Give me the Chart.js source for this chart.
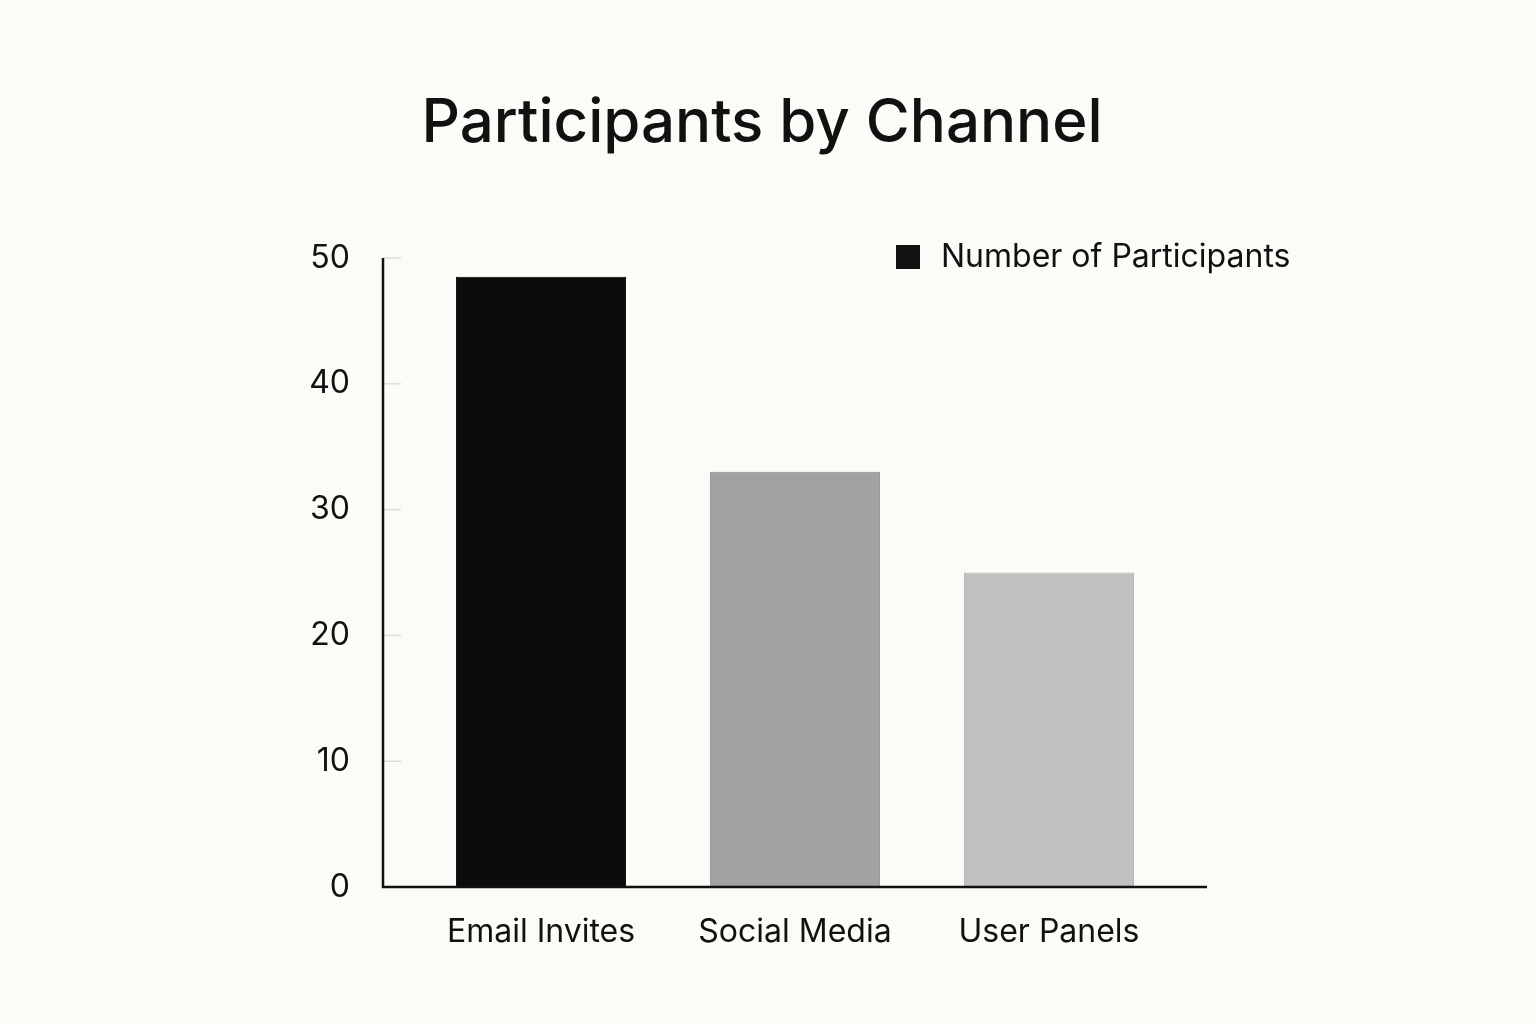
<!DOCTYPE html>
<html><head><meta charset="utf-8">
<script src="https://cdn.jsdelivr.net/npm/chart.js@4/dist/chart.umd.min.js"></script>
<style>html,body{margin:0;padding:0;background:#fcfbf7;}#wrap{width:1536px;height:1024px;}</style>
</head><body><div id="wrap"><canvas id="c"></canvas></div>
<script>
const categories = ["Email Invites", "Social Media", "User Panels"];
const participants = [48.5, 33, 25];
const barColors = ["#0b0b0b", "#a2a2a2", "#c1c1c1"];
const yTicks = [0, 10, 20, 30, 40, 50];
const titleText = "Participants by Channel";
const seriesName = "Number of Participants";
const FONT = "Inter, 'Noto Sans', sans-serif";

const decor = {
  id: 'decor',
  afterDraw(chart) {
    const {ctx, chartArea: a} = chart;
    const y = chart.scales.y;
    ctx.save();
    // title
    ctx.fillStyle = '#111';
    ctx.font = '500 60px ' + FONT;
    ctx.textAlign = 'center'; ctx.textBaseline = 'middle';
    ctx.fillText(titleText, 762, 124);
    // small ticks
    ctx.strokeStyle = '#dddddd'; ctx.lineWidth = 1.5;
    yTicks.forEach(v => { if (v === 0) return; const py = y.getPixelForValue(v);
      ctx.beginPath(); ctx.moveTo(a.left - 31, py); ctx.lineTo(a.left - 13, py); ctx.stroke(); });
    // axes
    ctx.strokeStyle = '#111'; ctx.lineWidth = 2.5;
    ctx.beginPath();
    ctx.moveTo(a.left - 31, a.top); ctx.lineTo(a.left - 31, a.bottom);
    ctx.lineTo(a.right + 31, a.bottom); ctx.stroke();
    // legend
    ctx.fillStyle = '#111';
    ctx.fillRect(896, 245, 24, 24);
    ctx.font = '32px ' + FONT; ctx.textAlign = 'left';
    ctx.fillText(seriesName, 941, 257);
    ctx.restore();
  }
};

new Chart(document.getElementById('c'), {
  type: 'bar',
  data: { labels: categories, datasets: [{ label: seriesName, data: participants,
    backgroundColor: barColors, borderColor: ["#000", "#8f8f8f", "#b0b0b0"], borderWidth: 1,
    categoryPercentage: 0.67, barPercentage: 1 }] },
  options: {
    responsive: true, maintainAspectRatio: false, animation: false,
    layout: { padding: { left: 0, right: 360, top: 258, bottom: 0 } },
    plugins: { legend: { display: false }, title: { display: false }, tooltip: { enabled: false } },
    scales: {
      x: { grid: { display: false }, border: { display: false },
        ticks: { color: '#111', font: { size: 32, family: FONT }, padding: 18 },
        afterFit(s) { s.height = 137; } },
      y: { min: 0, max: 50, grid: { display: false }, border: { display: false },
        afterBuildTicks(s) { s.ticks = yTicks.map(v => ({ value: v })); },
        ticks: { color: '#111', font: { size: 32, family: FONT }, padding: 56 },
        afterFit(s) { s.width = 414; } }
    }
  },
  plugins: [decor]
});
</script></body></html>
